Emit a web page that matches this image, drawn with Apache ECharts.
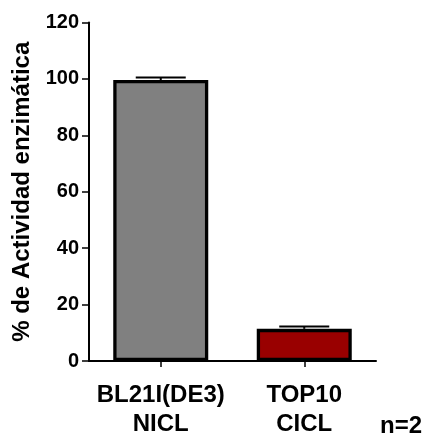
<!DOCTYPE html>
<html><head><meta charset="utf-8">
<script src="https://cdn.jsdelivr.net/npm/echarts@6/dist/echarts.min.js"></script>
<style>html,body{margin:0;padding:0;background:#fff}#c{width:423px;height:435px}</style>
</head><body><div id="c"></div>
<script>
const categories = ['BL21I(DE3)\nNICL', 'TOP10\nCICL'];
const values = [99.6, 11.4];
const errors = [0.9, 0.8];
const colors = ['#808080', '#990000'];
const yTicks = [0, 20, 40, 60, 80, 100, 120];

const chart = echarts.init(document.getElementById('c'));
const font = 'Liberation Sans, Arial, sans-serif';
chart.setOption({
  animation: false,
  grid: {left: 89, right: 47, top: 22.5, bottom: 74, containLabel: false, outerBoundsMode: 'none'},
  xAxis: {
    type: 'category', data: categories,
    axisLine: {lineStyle: {color: '#000', width: 2}},
    axisTick: {show: true, alignWithLabel: true, length: 6, lineStyle: {color: '#000', width: 1.5},
      interval: 0},
    axisLabel: {color: '#000', fontFamily: font, fontWeight: 'bold', fontSize: 24, lineHeight: 29, margin: 20, interval: 0}
  },
  yAxis: {
    type: 'value', min: 0, max: 120, interval: 20,
    name: '% de Actividad enzimática', nameLocation: 'middle', nameGap: 54,
    nameTextStyle: {color: '#000', fontFamily: font, fontWeight: 'bold', fontSize: 24},
    axisLine: {show: true, lineStyle: {color: '#000', width: 2}},
    axisTick: {show: true, length: 7, lineStyle: {color: '#000', width: 1.5}},
    axisLabel: {color: '#000', fontFamily: font, fontWeight: 'bold', fontSize: 20, margin: 10},
    splitLine: {show: false}
  },
  graphic: [{type: 'text', left: 380, top: 414, style: {text: 'n=2', fill: '#000', font: 'bold 24px ' + font}}],
  series: [{
    type: 'bar', barWidth: 95,
    data: values.map((v, i) => ({value: v, itemStyle: {color: colors[i], borderColor: '#000', borderWidth: 3.3}}))
  }, {
    type: 'custom',
    renderItem: function (params, api) {
      const x = api.value(0), v = api.value(1), e = api.value(2);
      const p0 = api.coord([x, v]);
      const p1 = api.coord([x, v + e]);
      const hw = 25;
      return {type: 'group', children: [
        {type: 'line', shape: {x1: p0[0], y1: p0[1], x2: p1[0], y2: p1[1]}, style: {stroke: '#000', lineWidth: 2}},
        {type: 'line', shape: {x1: p1[0] - hw, y1: p1[1], x2: p1[0] + hw, y2: p1[1]}, style: {stroke: '#000', lineWidth: 2}}
      ]};
    },
    data: values.map((v, i) => [i, v, errors[i]]), z: 10
  }]
});
</script></body></html>
